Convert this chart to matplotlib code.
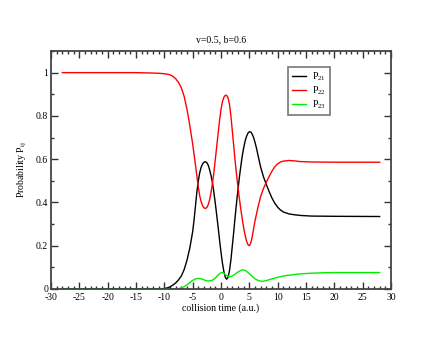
import matplotlib
matplotlib.use("Agg")
import matplotlib.pyplot as plt
from matplotlib.ticker import MultipleLocator

plt.rcParams['font.family'] = ['Liberation Serif', 'DejaVu Serif']
plt.rcParams['mathtext.fontset'] = 'custom'
plt.rcParams['mathtext.rm'] = 'Liberation Serif'
plt.rcParams['mathtext.it'] = 'Liberation Serif'
plt.rcParams['axes.unicode_minus'] = False

# P21 (black)
t21 = [-28, -15, -12, -11, -10, -9.5, -9, -8.5, -8, -7.5, -7, -6.5, -6, -5.5, -5,
       -4.75, -4.5, -4.25, -4, -3.75, -3.5, -3.25, -3, -2.75, -2.5, -2.25, -2,
       -1.75, -1.5, -1.25, -1, -0.75, -0.5, -0.25, 0, 0.25, 0.5, 0.75, 1, 1.25,
       1.5, 1.75, 2, 2.25, 2.5, 2.75, 3, 3.25, 3.5, 3.75, 4, 4.25, 4.5, 4.75, 5,
       5.25, 5.5, 5.75, 6, 6.25, 6.5, 6.75, 7, 7.5, 8, 8.5, 9, 9.5, 10, 10.5, 11,
       12, 13, 14, 16, 20, 28]
p21 = [0, 0, 0, 0.001, 0.002, 0.005, 0.01, 0.018, 0.028, 0.042, 0.06, 0.09,
       0.133, 0.19, 0.265, 0.32, 0.385, 0.45, 0.5, 0.538, 0.563, 0.578, 0.586,
       0.588, 0.584, 0.572, 0.55, 0.523, 0.49, 0.445, 0.395, 0.34, 0.285, 0.225,
       0.17, 0.12, 0.082, 0.055, 0.045, 0.055, 0.085, 0.135, 0.2, 0.265, 0.335,
       0.4, 0.46, 0.518, 0.568, 0.615, 0.652, 0.683, 0.705, 0.72, 0.727, 0.726,
       0.716, 0.7, 0.678, 0.652, 0.622, 0.592, 0.563, 0.518, 0.483, 0.45, 0.42,
       0.396, 0.378, 0.365, 0.356, 0.347, 0.343, 0.34, 0.337, 0.336, 0.335]

# P22 (red)
t22 = [-28, -20, -15, -12, -11, -10, -9.5, -9, -8.5, -8, -7.5, -7, -6.5, -6,
       -5.5, -5, -4.5, -4, -3.75, -3.5, -3.25, -3, -2.75, -2.5, -2.25, -2, -1.75,
       -1.5, -1.25, -1, -0.75, -0.5, -0.25, 0, 0.25, 0.5, 0.75, 1, 1.25, 1.5,
       1.75, 2, 2.25, 2.5, 2.75, 3, 3.25, 3.5, 3.75, 4, 4.25, 4.5, 4.75, 5, 5.25,
       5.5, 6, 6.5, 7, 7.5, 8, 8.5, 9, 9.5, 10, 10.5, 11, 12, 13, 14, 16, 20, 28]
p22 = [1.0, 1.0, 1.0, 0.998, 0.997, 0.995, 0.993, 0.99, 0.983, 0.972, 0.955,
       0.93, 0.89, 0.83, 0.755, 0.67, 0.572, 0.47, 0.43, 0.403, 0.385, 0.375,
       0.372, 0.377, 0.39, 0.413, 0.447, 0.49, 0.54, 0.6, 0.66, 0.72, 0.78, 0.83,
       0.865, 0.886, 0.895, 0.895, 0.882, 0.853, 0.80, 0.73, 0.66, 0.59, 0.527,
       0.47, 0.417, 0.368, 0.323, 0.283, 0.249, 0.222, 0.205, 0.2, 0.212, 0.24,
       0.315, 0.375, 0.428, 0.465, 0.494, 0.52, 0.545, 0.565, 0.579, 0.587,
       0.591, 0.594, 0.592, 0.589, 0.587, 0.586, 0.586]

# P23 (green)
t23 = [-28, -10, -9, -8, -7.5, -7, -6.5, -6, -5.5, -5, -4.5, -4, -3.5, -3, -2.5,
       -2, -1.5, -1, -0.5, -0.25, 0, 0.25, 0.5, 0.75, 1, 1.5, 2, 2.5, 3, 3.5,
       3.75, 4, 4.25, 4.5, 5, 5.5, 6, 6.5, 7, 7.5, 8, 9, 10, 11, 12, 13, 14, 16,
       18, 20, 24, 28]
p23 = [0, 0, 0, 0.001, 0.002, 0.005, 0.011, 0.019, 0.03, 0.04, 0.047, 0.049,
       0.047, 0.042, 0.038, 0.037, 0.041, 0.051, 0.065, 0.071, 0.075, 0.076,
       0.073, 0.067, 0.062, 0.057, 0.06, 0.069, 0.079, 0.086, 0.088, 0.088,
       0.086, 0.082, 0.071, 0.058, 0.047, 0.04, 0.036, 0.036, 0.039, 0.047,
       0.054, 0.06, 0.064, 0.067, 0.07, 0.073, 0.075, 0.076, 0.076, 0.076]

fig = plt.figure(figsize=(4.4, 3.4), dpi=100)
ax = fig.add_axes([51 / 440, 51 / 340, 340 / 440, 238 / 340])

ax.plot(t21, p21, color='black', lw=1.0, label='P$_{21}$')
ax.plot(t22, p22, color='red', lw=1.0, label='P$_{22}$')
ax.plot(t23, p23, color='#00ee00', lw=1.0, label='P$_{23}$')

ax.set_xlim(-30, 30)
ax.set_ylim(0, 1.1)
ax.xaxis.set_major_locator(MultipleLocator(5))
ax.xaxis.set_minor_locator(MultipleLocator(1))
ax.yaxis.set_major_locator(MultipleLocator(0.2))
ax.yaxis.set_minor_locator(MultipleLocator(0.1))
ax.yaxis.set_major_formatter(plt.FuncFormatter(lambda v, p: f'{v:g}'))
ax.tick_params(which='both', direction='in', top=True, right=True,
               labelsize=7, width=1.0, colors='#333333', labelcolor='black')
ax.tick_params(axis='x', pad=3)
ax.tick_params(axis='y', pad=2)
ax.tick_params(which='major', length=5)
ax.tick_params(which='minor', length=2.5)
for sp in ax.spines.values():
    sp.set_linewidth(1.3)
    sp.set_color('#444444')

ax.set_title('v=0.5, b=0.6', fontsize=7, pad=6)
ax.set_xlabel('collision time (a.u.)', fontsize=7, labelpad=1)
ax.set_ylabel('Probability P$_{\\mathrm{ij}}$', fontsize=7, labelpad=5)

leg = ax.legend(loc='upper left', bbox_to_anchor=(0.697, 0.933), fontsize=7,
                handlelength=1.5, handletextpad=0.6, borderpad=0.4,
                labelspacing=0.15, borderaxespad=0, fancybox=False,
                framealpha=1)
leg.get_frame().set_edgecolor('#777777')
leg.get_frame().set_linewidth(1.2)

fig.savefig('out.png', dpi=100)
